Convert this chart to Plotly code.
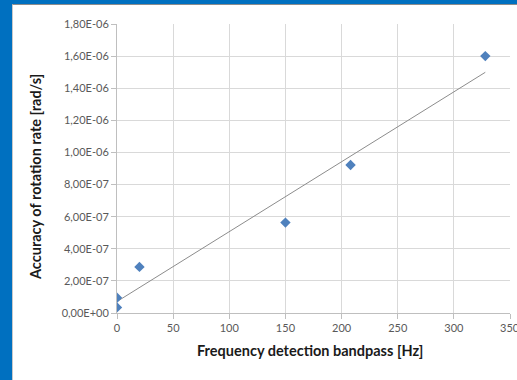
import numpy as np
import plotly.graph_objects as go

bandpass_hz = [0, 0, 20, 150, 208, 328]
accuracy = [3.5e-8, 9.5e-8, 2.87e-7, 5.63e-7, 9.22e-7, 1.6e-6]
y_tickvals = [0, 2e-7, 4e-7, 6e-7, 8e-7, 1e-6, 1.2e-6, 1.4e-6, 1.6e-6, 1.8e-6]
y_ticktext = ["0,00E+00", "2,00E-07", "4,00E-07", "6,00E-07", "8,00E-07",
              "1,00E-06", "1,20E-06", "1,40E-06", "1,60E-06", "1,80E-06"]
x_tickvals = [0, 50, 100, 150, 200, 250, 300, 350]

slope, intercept = np.polyfit(bandpass_hz, accuracy, 1)
trend_x = [min(bandpass_hz), max(bandpass_hz)]
trend_y = [slope * v + intercept for v in trend_x]

L, R, T, B = 117, 7, 24, 67
W, H = 517, 380
pw, ph = W - L - R, H - T - B

def px(x):
    return (x - L) / pw

def py(y):
    return (H - B - y) / ph

fig = go.Figure()
fig.add_trace(go.Scatter(x=trend_x, y=trend_y, mode="lines",
                         line=dict(color="#8c8c8c", width=1), hoverinfo="skip"))
fig.add_trace(go.Scatter(x=bandpass_hz, y=accuracy, mode="markers",
                         marker=dict(symbol="diamond", size=8, color="#4F81BD")))

font = "Lato, Liberation Sans, sans-serif"
fig.update_layout(
    width=W, height=H,
    margin=dict(l=L, r=R, t=T, b=B),
    paper_bgcolor="white", plot_bgcolor="white",
    showlegend=False,
    font=dict(family=font, size=11, color="#595959"),
    xaxis=dict(range=[0, 350], tickvals=x_tickvals, showgrid=True,
               gridcolor="#d9d9d9", gridwidth=1, zeroline=False,
               showline=True, linecolor="#bfbfbf", mirror=False,
               ticks="outside", ticklen=5, tickcolor="#bfbfbf"),
    yaxis=dict(range=[0, 1.8e-6], tickvals=y_tickvals, ticktext=y_ticktext,
               showgrid=True, gridcolor="#d9d9d9", gridwidth=1, zeroline=False,
               showline=True, linecolor="#bfbfbf",
               ticks="outside", ticklen=5, tickcolor="#bfbfbf"),
    shapes=[
        dict(type="rect", xref="paper", yref="paper", x0=px(0), x1=px(W),
             y0=py(4), y1=py(0), fillcolor="#0070C0", line=dict(width=0), layer="below"),
        dict(type="rect", xref="paper", yref="paper", x0=px(0), x1=px(12),
             y0=py(H), y1=py(0), fillcolor="#0070C0", line=dict(width=0), layer="below"),
        dict(type="line", xref="paper", yref="paper", x0=px(12), x1=px(W),
             y0=py(4.5), y1=py(4.5), line=dict(color="#8c8c8c", width=1)),
        dict(type="line", xref="paper", yref="paper", x0=px(12.5), x1=px(12.5),
             y0=py(4.5), y1=py(H), line=dict(color="#c8c8c8", width=1)),
    ],
    annotations=[
        dict(text="<b>Accuracy of rotation rate [rad/s]</b>", xref="paper", yref="paper",
             x=px(35), y=py(177), textangle=-90, showarrow=False,
             font=dict(family=font, size=14.5, color="#1a1a1a"), xanchor="center", yanchor="middle"),
        dict(text="<b>Frequency detection bandpass [Hz]</b>", xref="paper", yref="paper",
             x=px(310), y=py(350), showarrow=False,
             font=dict(family=font, size=14.5, color="#1a1a1a"), xanchor="center", yanchor="middle"),
        dict(text=str(x_tickvals[-1]), xref="x", yref="paper", x=x_tickvals[-1], y=py(327),
             showarrow=False, xanchor="center", yanchor="middle",
             font=dict(family=font, size=11, color="#595959")),
    ],
)
fig.write_html("out.html")
